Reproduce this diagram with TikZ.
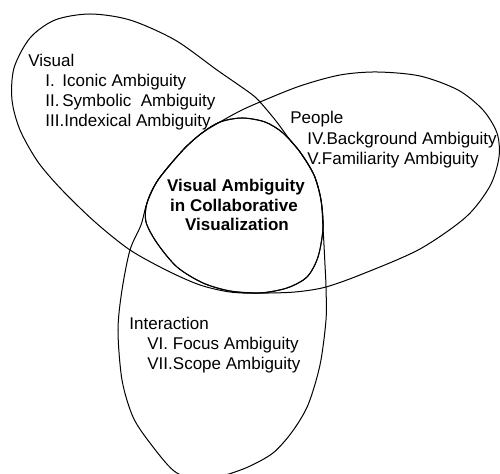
\documentclass[tikz,border=0pt]{standalone}
\usepackage{fontspec}
\setmainfont{Liberation Sans}

\begin{document}
\begin{tikzpicture}[x=0.5pt,y=-0.5pt,
    lbl/.style={inner sep=0pt,anchor=base west,font=\fontsize{8.5}{10}\selectfont},
    core/.style={inner sep=0pt,anchor=base,font=\fontsize{8.5}{10}\selectfont\bfseries},
    oval/.style={line width=0.5pt}]
    \useasboundingbox (0,0) rectangle (500,474);
    \clip (0,0) rectangle (500,474);
    % Visual
    \draw[oval] plot[smooth cycle] coordinates {(130,250) (95,222) (62,190) (38,162) (20,130) (12,100) (14,68) (30,38) (55,20) (90,14) (130,20) (175,40) (217,70) (250,93) (260,102) (276,121) (290,140) (300,152) (314,175) (321,200) (323,228) (318,257) (307,277) (287,288) (260,293) (230,292) (200,285) (168,271)};
    % People
    \draw[oval] plot[smooth cycle] coordinates {(260,102) (300,86) (340,75) (377,72) (420,76) (458,90) (483,110) (497,133) (499,157) (490,186) (466,217) (420,249) (365,273) (326,287) (295,292) (260,293) (230,291) (203,283) (177,267) (157,243) (146,222) (147,203) (158,180) (183,150) (202,133) (220,122) (240,111)};
    % Interaction
    \draw[oval] plot[smooth cycle] coordinates {(326,287) (325,265) (324,245) (323,228) (321,200) (314,175) (300,152) (283,133) (265,122) (242,118) (220,122) (202,133) (183,150) (158,180) (147,203) (141,225) (130,250) (122,290) (118,330) (122,380) (133,417) (150,443) (174,471) (198,480) (222,476) (248,467) (273,453) (292,432) (308,405) (320,365) (326,320)};
    % centre
    \draw[oval] plot[smooth cycle] coordinates {(242,118) (265,122) (283,133) (300,152) (314,175) (321,200) (323,228) (318,257) (307,277) (287,288) (260,293) (230,291) (203,283) (177,267) (157,243) (146,222) (147,203) (158,180) (183,150) (202,133) (220,122)};

    \node[lbl] (vis) at (28,67) {Visual};
    \node[lbl] (vis1) at (45,87) {\makebox[8.5pt][l]{I.}Iconic Ambiguity};
    \node[lbl] (vis2) at (45,107) {\makebox[8.5pt][l]{II.}Symbolic\ \ Ambiguity};
    \node[lbl] (vis3) at (45,127) {III.Indexical Ambiguity};

    \node[lbl] (ppl) at (290,124) {People};
    \node[lbl] (ppl1) at (307,144.5) {IV.Background Ambiguity};
    \node[lbl] (ppl2) at (307,165) {V.Familiarity Ambiguity};

    \node[lbl] (act) at (129,330) {Interaction};
    \node[lbl] (act1) at (147,350) {VI. Focus Ambiguity};
    \node[lbl] (act2) at (147,370) {VII.Scope Ambiguity};

    \node[core] (va1) at (236,192) {Visual Ambiguity};
    \node[core] (va2) at (234,212) {in Collaborative};
    \node[core] (va3) at (237,231) {Visualization};
\end{tikzpicture}
\end{document}
